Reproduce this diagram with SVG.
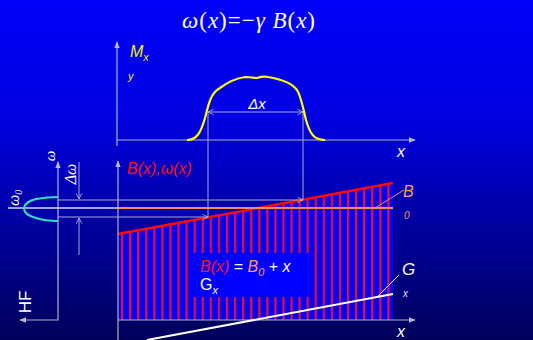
<svg xmlns="http://www.w3.org/2000/svg" width="533" height="340" viewBox="0 0 533 340">
<defs>
<linearGradient id="bg" x1="0" y1="0" x2="0" y2="1">
<stop offset="0" stop-color="#0000f8"/>
<stop offset="0.35" stop-color="#0000e0"/>
<stop offset="1" stop-color="#00005a"/>
</linearGradient>
<pattern id="stripes" patternUnits="userSpaceOnUse" x="0" y="0" width="8.07" height="10" patternTransform="translate(121 0)">
<rect x="0" y="0" width="8.07" height="10" fill="#0000ff"/>
<rect x="0" y="0" width="2.2" height="10" fill="#e8102a"/>
</pattern>
<marker id="ah" viewBox="0 0 10 10" refX="9" refY="5" markerWidth="7" markerHeight="7" orient="auto-start-reverse" markerUnits="userSpaceOnUse">
<path d="M0,1 L10,5 L0,9 z" fill="#b8b8d0"/>
</marker>
<marker id="oa" viewBox="0 0 10 10" refX="9" refY="5" markerWidth="7" markerHeight="7" orient="auto-start-reverse" markerUnits="userSpaceOnUse">
<path d="M1,1 L9,5 L1,9" fill="none" stroke="#b8b8d0" stroke-width="1.2"/>
</marker>
</defs>
<style>
.ax{stroke:#b0b0c8;stroke-width:1.2;fill:none}
.th{stroke:#a8a8d8;stroke-width:1;fill:none}
.sans{font-family:"Liberation Sans",Arial,sans-serif}
.serif{font-family:"Liberation Serif","Times New Roman",serif}
.it{font-style:italic}
</style>
<rect x="0" y="0" width="533" height="340" fill="url(#bg)"/>

<g id="title">
<text x="182" y="28" class="serif" font-size="23" fill="#ffffff" textLength="133" lengthAdjust="spacing"><tspan class="it">ω</tspan>(<tspan class="it">x</tspan>)=−<tspan class="it">γ</tspan> <tspan class="it">B</tspan>(<tspan class="it">x</tspan>)</text>
</g>

<g id="field-region">
<polygon points="118,234 393,183 393,320 118,320" fill="url(#stripes)"/>
<rect x="193" y="253" width="120" height="44" fill="#0000ff"/>
<line x1="118" y1="234" x2="393" y2="183" stroke="#ff0a0a" stroke-width="2.5"/>
</g>

<g id="connectors">
<line class="ax" x1="117" y1="146" x2="117" y2="42" marker-end="url(#ah)"/>
<line class="ax" x1="117" y1="140" x2="415" y2="140" marker-end="url(#ah)"/>
<line class="ax" x1="118" y1="340" x2="118" y2="161" marker-end="url(#ah)"/>
<line class="ax" x1="118" y1="320" x2="415" y2="320" marker-end="url(#ah)"/>
<polyline class="ax" points="58,162 58,320 20,320" marker-start="url(#ah)" marker-end="url(#ah)"/>
<line class="th" x1="208" y1="112" x2="303" y2="112" marker-start="url(#oa)" marker-end="url(#oa)"/>
<line class="th" x1="208" y1="112" x2="208" y2="217"/>
<line class="th" x1="303" y1="112" x2="303" y2="200"/>
<line class="th" x1="58" y1="200" x2="303" y2="200" marker-end="url(#oa)"/>
<line class="th" x1="58" y1="217" x2="208" y2="217" marker-end="url(#oa)"/>
<line class="th" x1="79" y1="162" x2="79" y2="199" marker-end="url(#oa)"/>
<line class="th" x1="79" y1="255" x2="79" y2="218" marker-end="url(#oa)"/>
<line x1="8" y1="208" x2="118" y2="208" stroke="#d8d8f0" stroke-width="1.3"/>
<line x1="118" y1="208" x2="393" y2="208" stroke="#ff8a5a" stroke-width="2"/>
<line x1="375" y1="208" x2="404" y2="190" stroke="#ff8a5a" stroke-width="1"/>
<line x1="147" y1="340" x2="393" y2="294" stroke="#ffffff" stroke-width="2"/>
<line x1="377" y1="297" x2="399" y2="275" stroke="#ffffff" stroke-width="1"/>
</g>

<g id="profile">
<path d="M187,140 C197,140 201,132 205,118 C209,102 211,93 220,88 C228,82 238,78 245,77 C251,77 254,78 257,78 C260,77 263,76 268,77 C280,79 292,83 297,90 C301,96 303,108 306,120 C310,134 314,140 325,140" fill="none" stroke="#ffff00" stroke-width="2.2"/>
</g>

<g id="line-shape">
<path d="M58,197 C48,197 42,198 36,199 C28,201 24,205 24,208.5 C24,212 28,216 36,218 C42,220 48,221 58,221" fill="none" stroke="#30e0c0" stroke-width="2"/>
</g>

<g id="labels">
<text x="130" y="57" class="sans it" font-size="16" fill="#f0f000">M<tspan font-size="11" dy="4">x</tspan></text>
<text x="128" y="80" class="sans it" font-size="11" fill="#f0f000">y</text>
<text x="257" y="109" text-anchor="middle" class="sans it" font-size="15" fill="#ffffff">Δx</text>
<text x="397" y="157" class="sans it" font-size="16" fill="#ffffff">x</text>
<text x="397" y="337" class="sans it" font-size="16" fill="#ffffff">x</text>
<text x="127" y="174" class="sans it" font-size="16" fill="#ff1010">B(x),ω(x)</text>
<text x="403" y="197" class="sans it" font-size="16" fill="#ff9966">B</text>
<text x="404" y="219" class="sans it" font-size="10" fill="#ff9966">0</text>
<text x="402" y="275" class="sans it" font-size="17" fill="#ffffff">G</text>
<text x="403" y="297" class="sans it" font-size="10" fill="#e0e0f0">x</text>
<text x="200" y="272" class="sans" font-size="16" fill="#ffffff"><tspan class="it" fill="#ff1010">B(x)</tspan> = <tspan class="it" fill="#ff9966">B<tspan font-size="11" dy="4">0</tspan></tspan><tspan dy="-4"> + </tspan><tspan class="it">x</tspan></text>
<text x="200" y="290" class="sans" font-size="16" fill="#ffffff">G<tspan class="it" font-size="11" dy="4">x</tspan></text>
<text transform="translate(55,156) rotate(-90)" text-anchor="middle" class="serif it" font-size="15" fill="#ffffff">ω</text>
<text transform="translate(76,174) rotate(-90)" text-anchor="middle" class="serif it" font-size="16" fill="#ffffff">Δω</text>
<text transform="translate(19,206) rotate(-90)" class="serif it" font-size="16" fill="#ffffff">ω<tspan font-size="10" dy="3">0</tspan></text>
<text transform="translate(31,302) rotate(-90)" text-anchor="middle" class="sans" font-size="17" fill="#ffffff">HF</text>
</g>
</svg>
